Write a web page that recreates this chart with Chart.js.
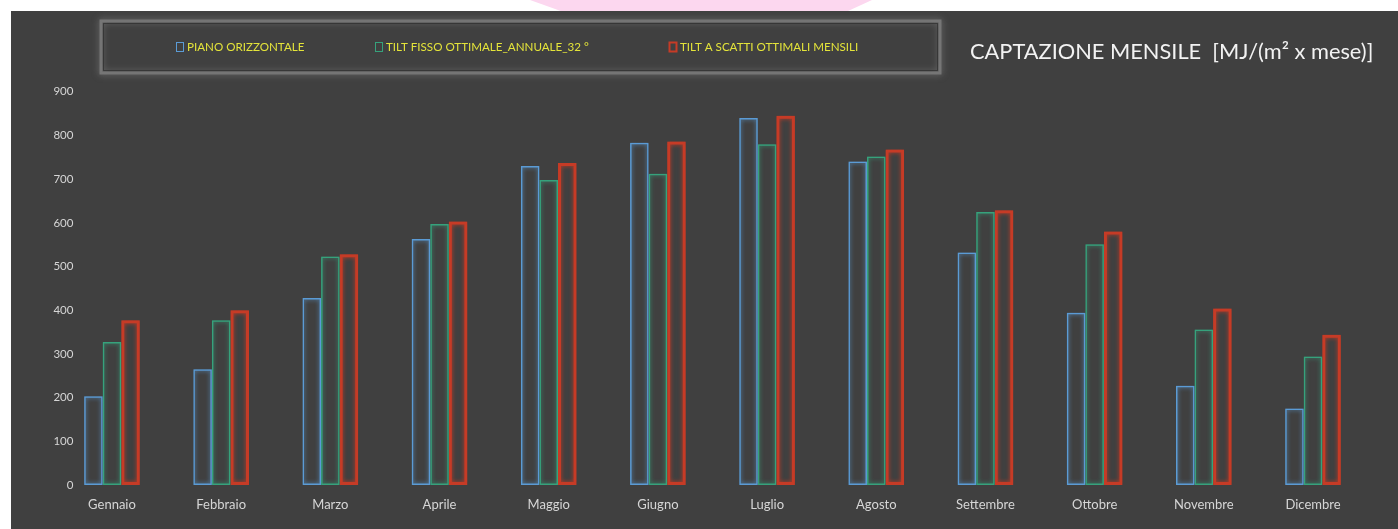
<!DOCTYPE html>
<html>
<head>
<meta charset="utf-8">
<title>Captazione mensile</title>
<script src="https://cdn.jsdelivr.net/npm/chart.js@4.4.0/dist/chart.umd.min.js"></script>
<style>
    html, body {
        margin: 0;
        padding: 0;
        width: 1398px;
        height: 529px;
        background: #ffffff;
        overflow: hidden;
    }
    /* fascia rosa in alto */
    .fascia {
        position: absolute;
        left: 530px;
        top: 0;
        width: 342px;
        height: 11px;
        background: #fcd7ef;
        clip-path: polygon(0 0, 100% 0, 93% 100%, 9% 100%);
    }
    .pannello {
        position: absolute;
        left: 11px;
        top: 11px;
        width: 1387px;
        height: 518px;
        background: #404040;
    }
</style>
</head>
<body>
<div class="fascia"></div>
<div class="pannello">
    <canvas id="captazione"></canvas>
</div>

<script>
    // dati mensili in MJ/(m2 x mese)
    const mesi = ["Gennaio", "Febbraio", "Marzo", "Aprile", "Maggio", "Giugno",
                  "Luglio", "Agosto", "Settembre", "Ottobre", "Novembre", "Dicembre"];
    const pianoOrizzontale = [203, 265, 428, 563, 730, 783, 840, 740, 532, 394, 227, 175];
    const tiltFisso        = [327, 377, 523, 597, 698, 712, 780, 752, 625, 551, 356, 294];
    const tiltScatti       = [377, 400, 528, 603, 737, 786, 845, 768, 629, 580, 404, 344];
    const serie = ["PIANO ORIZZONTALE", "TILT FISSO OTTIMALE_ANNUALE_32 °", "TILT A SCATTI OTTIMALI MENSILI"];
    const titolo = "CAPTAZIONE MENSILE  [MJ/(m² x mese)]";
    const yMax = 900;
    const yStep = 100;

    const colori = ["#5b9bd5", "#36a27c", "#c63b26"];
    const spessori = [1.5, 1.5, 3];

    // legenda nel riquadro in alto a sinistra, titolo a destra
    const legendaTitolo = {
        id: "legendaTitolo",
        afterDraw(chart) {
            const ctx = chart.ctx;
            ctx.save();
            // riquadro con bordo sfumato
            ctx.shadowColor = "rgba(150,150,150,0.8)";
            ctx.shadowBlur = 7;
            ctx.strokeStyle = "rgba(125,125,125,0.85)";
            ctx.lineWidth = 3;
            ctx.strokeRect(90, 10, 839, 52);
            ctx.shadowBlur = 0;
            ctx.strokeStyle = "rgba(40,40,40,0.6)";
            ctx.lineWidth = 1;
            ctx.strokeRect(92.5, 12.5, 834, 47);

            const xs = [165, 364, 658];
            ctx.font = "11.6px Lato";
            ctx.textBaseline = "middle";
            ctx.textAlign = "left";
            chart.data.datasets.forEach(function(ds, i) {
                ctx.strokeStyle = ds.borderColor;
                ctx.lineWidth = i == 2 ? 2 : 1;
                ctx.strokeRect(xs[i] + 0.5, 31.5, 7, 9);
                ctx.fillStyle = "#e4e43a";
                ctx.fillText(ds.label, xs[i] + 11, 36.5);
            });

            ctx.fillStyle = "#f2f2f2";
            ctx.font = "21.8px Lato";
            ctx.fillText(titolo, 959, 41);
            ctx.restore();
        },
        beforeDatasetDraw(chart, args) {
            const ctx = chart.ctx;
            ctx.save();
            ctx.shadowColor = colori[args.index];
            ctx.shadowBlur = 4;
        },
        afterDatasetDraw(chart) {
            chart.ctx.restore();
        }
    };

    const datasets = [pianoOrizzontale, tiltFisso, tiltScatti].map(function(valori, i) {
        return {
            label: serie[i],
            data: valori,
            backgroundColor: "rgba(0,0,0,0)",
            borderColor: colori[i],
            borderWidth: spessori[i],
            borderSkipped: false,
            barPercentage: 1,
            categoryPercentage: 0.51
        };
    });

    new Chart("captazione", {
        type: "bar",
        data: {
            labels: mesi,
            datasets: datasets
        },
        options: {
            responsive: true,
            maintainAspectRatio: false,
            animation: false,
            layout: {
                padding: { top: 80.7, right: 30.4, left: 0, bottom: 0 }
            },
            plugins: {
                legend: { display: false },
                title: { display: false },
                tooltip: { enabled: false }
            },
            scales: {
                x: {
                    grid: { display: false, drawTicks: false },
                    border: { display: false },
                    ticks: {
                        color: "#d6d6d6",
                        font: { family: "Lato", size: 13 },
                        padding: 12,
                        maxRotation: 0
                    },
                    afterFit(scale) { scale.height = 44; }
                },
                y: {
                    min: 0,
                    max: yMax,
                    grid: { display: false, drawTicks: false },
                    border: { display: false },
                    ticks: {
                        stepSize: yStep,
                        color: "#d6d6d6",
                        font: { family: "Lato", size: 11.5 },
                        mirror: true,
                        crossAlign: "far",
                        padding: -4
                    },
                    afterFit(scale) { scale.width = 46.4; }
                }
            }
        },
        plugins: [legendaTitolo]
    });
</script>
</body>
</html>
